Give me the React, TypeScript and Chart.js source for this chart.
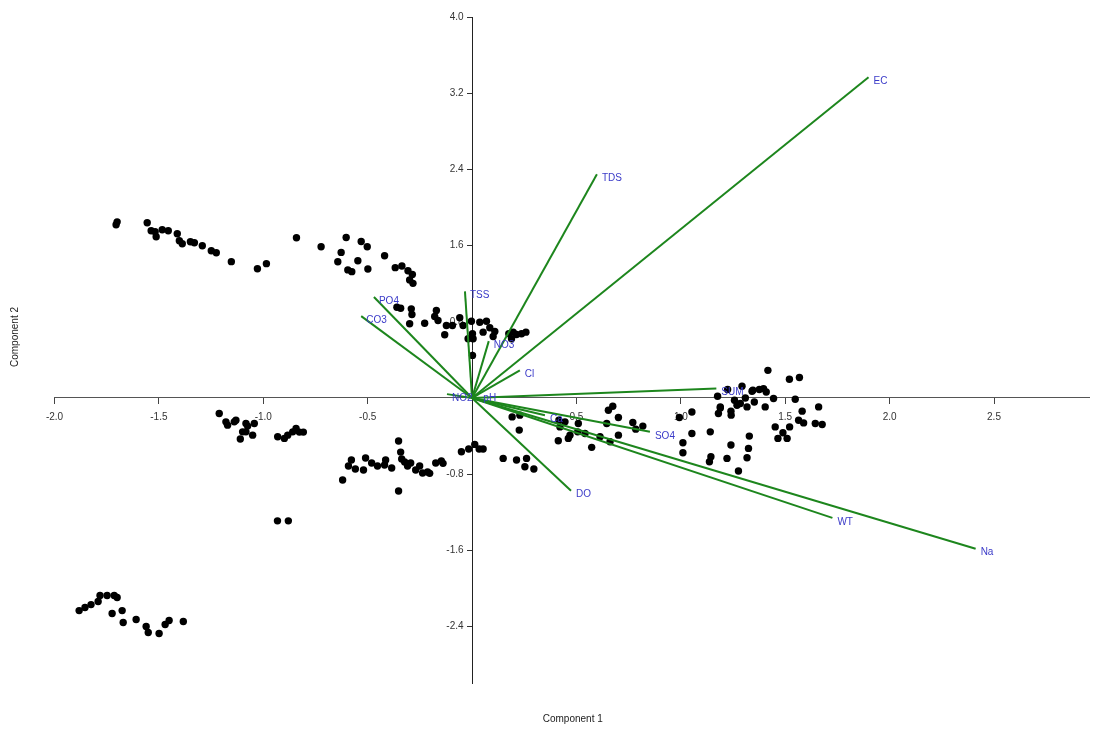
import React, { useEffect, useRef } from 'react';
import { Chart, registerables } from 'chart.js';

Chart.register(...registerables);

// Axis ranges and tick labels
const xRange = [-2.0, 2.955];
const yRange = [-3.0, 4.0];
const xTickValues = [-2.0, -1.5, -1.0, -0.5, 0.5, 1.0, 1.5, 2.0, 2.5];
const yTickValues = [-2.4, -1.6, -0.8, 0.8, 1.6, 2.4, 3.2, 4.0];

const xTitle = 'Component 1';
const yTitle = 'Component 2';

// Loading vectors (variables)
const loadingNames = ['EC', 'TDS', 'TSS', 'PO4', 'CO3', 'NO3', 'Cl', 'pH', 'NO2', 'SUM', 'Ca', 'SO4', 'DO', 'WT', 'Na'];
const loadingX = [1.899, 0.598, -0.034, -0.47, -0.531, 0.08, 0.229, 0.03, -0.12, 1.17, 0.349, 0.852, 0.474, 1.726, 2.412];
const loadingY = [3.37, 2.35, 1.12, 1.06, 0.859, 0.597, 0.29, 0.04, 0.04, 0.098, -0.181, -0.356, -0.975, -1.26, -1.584];

// Sample scores
const scoresUpperLeft: [number, number][] = [
  [-1.705, 1.819], [-1.7, 1.85], [-1.556, 1.84], [-1.537, 1.756], [-1.513, 1.693], [-1.518, 1.746],
  [-1.484, 1.767], [-1.455, 1.756], [-1.412, 1.725], [-1.402, 1.651], [-1.388, 1.62], [-1.349, 1.641],
  [-1.33, 1.631], [-1.292, 1.599], [-1.249, 1.547], [-1.225, 1.526], [-1.153, 1.432], [-1.028, 1.358],
  [-0.985, 1.411],
];
const scoresUpperMid: [number, number][] = [
  [-0.841, 1.683], [-0.723, 1.588], [-0.603, 1.686], [-0.531, 1.644], [-0.502, 1.588], [-0.627, 1.529],
  [-0.643, 1.431], [-0.547, 1.442], [-0.595, 1.345], [-0.576, 1.327], [-0.499, 1.355], [-0.419, 1.494],
  [-0.368, 1.369], [-0.336, 1.386], [-0.307, 1.337], [-0.286, 1.298], [-0.299, 1.24], [-0.283, 1.204],
];
const scoresNearTop: [number, number][] = [
  [-0.36, 0.953], [-0.342, 0.942], [-0.291, 0.936], [-0.288, 0.876], [-0.299, 0.779], [-0.227, 0.785],
  [-0.171, 0.918], [-0.179, 0.855], [-0.163, 0.814], [-0.123, 0.761], [-0.094, 0.761], [-0.131, 0.664],
  [-0.059, 0.842], [-0.043, 0.761], [-0.019, 0.622], [-0.003, 0.806], [0.002, 0.674], [0.005, 0.622],
  [0.037, 0.796], [0.069, 0.806], [0.053, 0.691], [0.085, 0.737], [0.109, 0.698], [0.101, 0.646],
  [0.176, 0.674], [0.197, 0.691], [0.213, 0.667], [0.237, 0.674], [0.258, 0.691], [0.189, 0.622],
  [0.002, 0.447],
];
const scoresMidLeft: [number, number][] = [
  [-1.211, -0.163], [-1.179, -0.251], [-1.171, -0.286], [-1.139, -0.251], [-1.131, -0.234], [-1.083, -0.268],
  [-1.075, -0.296], [-1.043, -0.268], [-1.099, -0.356], [-1.083, -0.356], [-1.051, -0.391], [-1.11, -0.432],
  [-0.931, -0.408], [-0.899, -0.425], [-0.883, -0.391], [-0.859, -0.356], [-0.843, -0.32], [-0.827, -0.359],
  [-0.808, -0.359],
];
const scoresLowerMid: [number, number][] = [
  [-0.62, -0.862], [-0.592, -0.715], [-0.578, -0.652], [-0.559, -0.746], [-0.52, -0.757], [-0.51, -0.631],
  [-0.481, -0.684], [-0.453, -0.715], [-0.419, -0.704], [-0.414, -0.652], [-0.385, -0.736], [-0.352, -0.453],
  [-0.342, -0.569], [-0.337, -0.642], [-0.323, -0.673], [-0.309, -0.715], [-0.294, -0.684], [-0.27, -0.757],
  [-0.251, -0.715], [-0.237, -0.788], [-0.213, -0.778], [-0.203, -0.792], [-0.174, -0.684], [-0.147, -0.663],
  [-0.139, -0.687], [-0.352, -0.977], [-0.051, -0.565], [-0.016, -0.537], [0.013, -0.488], [0.034, -0.537],
  [0.053, -0.537],
];
const scoresRightMid: [number, number][] = [
  [0.192, -0.199], [0.229, -0.181], [0.226, -0.338], [0.149, -0.635], [0.213, -0.652], [0.261, -0.635],
  [0.253, -0.723], [0.296, -0.747], [0.413, -0.45], [0.421, -0.304], [0.461, -0.425], [0.469, -0.391],
  [0.445, -0.251], [0.509, -0.268], [0.506, -0.356], [0.541, -0.373], [0.573, -0.519], [0.613, -0.408],
  [0.645, -0.268], [0.653, -0.129], [0.674, -0.087], [0.701, -0.205], [0.661, -0.461], [0.701, -0.391],
  [0.77, -0.258], [0.784, -0.328], [0.818, -0.296], [0.416, -0.234],
];
const scoresRight: [number, number][] = [
  [0.993, -0.205], [1.053, -0.147], [1.053, -0.373], [1.01, -0.471], [1.01, -0.576], [1.141, -0.356],
  [1.144, -0.618], [1.137, -0.67], [1.221, -0.635], [1.18, -0.163], [1.189, -0.094], [1.176, 0.018],
  [1.417, 0.29], [1.52, 0.196], [1.568, 0.214], [1.345, 0.081], [1.376, 0.088], [1.396, 0.098],
  [1.409, 0.063], [1.224, 0.088], [1.293, 0.123], [1.341, 0.07], [1.257, -0.024], [1.269, -0.076],
  [1.285, -0.059], [1.309, 0.0], [1.317, -0.094], [1.352, -0.042], [1.404, -0.094], [1.444, -0.006],
  [1.548, -0.014], [1.189, -0.105], [1.24, -0.139], [1.241, -0.181], [1.581, -0.139], [1.66, -0.094],
  [1.564, -0.234], [1.588, -0.262], [1.644, -0.268], [1.677, -0.279], [1.452, -0.304], [1.521, -0.304],
  [1.489, -0.366], [1.465, -0.425], [1.509, -0.425], [1.328, -0.401], [1.24, -0.495], [1.324, -0.53],
  [1.317, -0.628], [1.276, -0.768],
];
const scoresLowerLeft: [number, number][] = [
  [-0.932, -1.291], [-0.88, -1.291],
  [-1.882, -2.234], [-1.854, -2.202], [-1.825, -2.171], [-1.791, -2.139], [-1.782, -2.076], [-1.748, -2.076],
  [-1.714, -2.076], [-1.7, -2.097], [-1.724, -2.264], [-1.676, -2.234], [-1.671, -2.359], [-1.609, -2.327],
  [-1.561, -2.401], [-1.551, -2.464], [-1.499, -2.474], [-1.47, -2.38], [-1.451, -2.338], [-1.383, -2.348],
];

const FONT = '"Liberation Sans", Arial, sans-serif';
const VECTOR_COLOR = '#1d861d';
const LABEL_COLOR = '#3a3ac8';
const TICK_COLOR = '#333';
const Y_TICK_LEN = 5;
const Y_TICK_PAD = 3.5;

const fmt = (v: number) => Number(v).toFixed(1);

// y tick labels: the library puts labels of a value-positioned y axis flush on the axis,
// so they are drawn here from the scale's own ticks, offset by tick length + padding.
const yLabelPlugin = {
  id: 'yTickLabels',
  beforeDatasetsDraw(chart: any) {
    const { ctx } = chart;
    const xs = chart.scales.x;
    const ys = chart.scales.y;
    const axisX = xs.getPixelForValue(0);
    ctx.save();
    ctx.font = `10px ${FONT}`;
    ctx.fillStyle = TICK_COLOR;
    ctx.textAlign = 'right';
    ctx.textBaseline = 'middle';
    ys.ticks.forEach((t: any) => {
      ctx.fillText(fmt(t.value), axisX - Y_TICK_LEN - Y_TICK_PAD, ys.getPixelForValue(t.value));
    });
    ctx.restore();
  },
};

const textPlugin = {
  id: 'biplotText',
  afterDatasetsDraw(chart: any) {
    const { ctx, chartArea } = chart;
    const xs = chart.scales.x;
    const ys = chart.scales.y;
    ctx.save();
    ctx.font = `10px ${FONT}`;
    ctx.fillStyle = LABEL_COLOR;
    ctx.textAlign = 'left';
    ctx.textBaseline = 'middle';
    loadingNames.forEach((name, i) => {
      const px = xs.getPixelForValue(loadingX[i]);
      const py = ys.getPixelForValue(loadingY[i]);
      ctx.fillText(name, px + 5, py + 4);
    });
    ctx.fillStyle = '#222';
    ctx.textAlign = 'center';
    ctx.fillText(xTitle, (chartArea.left + chartArea.right) / 2 + 1, 719);
    ctx.translate(15, 337);
    ctx.rotate(-Math.PI / 2);
    ctx.fillText(yTitle, 0, 0);
    ctx.restore();
  },
};

export default function App() {
  const canvasRef = useRef<HTMLCanvasElement | null>(null);

  useEffect(() => {
    if (!canvasRef.current) return;
    const allScores = [
      ...scoresUpperLeft, ...scoresUpperMid, ...scoresNearTop, ...scoresMidLeft,
      ...scoresLowerMid, ...scoresRightMid, ...scoresRight, ...scoresLowerLeft,
    ].map(([x, y]) => ({ x, y }));

    const vectorSets = loadingNames.map((name, i) => ({
      type: 'line' as const,
      label: name,
      data: [{ x: 0, y: 0 }, { x: loadingX[i], y: loadingY[i] }],
      borderColor: VECTOR_COLOR,
      borderWidth: 2,
      pointRadius: 0,
      showLine: true,
      fill: false,
      order: 0,
    }));

    const chart = new Chart(canvasRef.current, {
      type: 'scatter',
      data: {
        datasets: [
          ...vectorSets,
          {
            type: 'scatter' as const,
            label: 'Scores',
            data: allScores,
            backgroundColor: '#000',
            borderWidth: 0,
            pointRadius: 3.7,
            order: 1,
          },
        ] as any,
      },
      options: {
        responsive: false,
        animation: false,
        events: [],
        layout: { padding: { left: 54.5, right: 0, top: 17.2, bottom: 50.5 } },
        plugins: { legend: { display: false }, tooltip: { enabled: false } },
        scales: {
          x: {
            type: 'linear',
            min: xRange[0],
            max: xRange[1],
            position: { y: 0 } as any,
            afterFit: (s: any) => { s.height = 0; },
            afterBuildTicks: (s: any) => { s.ticks = xTickValues.map((v) => ({ value: v })); },
            grid: { drawOnChartArea: false, drawTicks: true, tickLength: 6, color: '#444', lineWidth: 1 },
            border: { display: true, color: '#555', width: 1 },
            ticks: {
              autoSkip: false,
              maxRotation: 0,
              padding: 7,
              color: TICK_COLOR,
              font: { size: 10, family: FONT },
              callback: (v: any) => fmt(v),
            },
          },
          y: {
            type: 'linear',
            min: yRange[0],
            max: yRange[1],
            position: { x: 0 } as any,
            afterFit: (s: any) => { s.width = 0; },
            afterBuildTicks: (s: any) => { s.ticks = yTickValues.map((v) => ({ value: v })); },
            grid: { drawOnChartArea: false, drawTicks: true, tickLength: Y_TICK_LEN, color: '#333', lineWidth: 1 },
            border: { display: true, color: '#222', width: 1 },
            ticks: { display: false, autoSkip: false },
          },
        },
      },
      plugins: [yLabelPlugin, textPlugin],
    });
    return () => chart.destroy();
  }, []);

  return (
    <div style={{ position: 'fixed', left: 0, top: 0, width: 1093, height: 734, background: '#fff' }}>
      <canvas ref={canvasRef} width={1093} height={734} style={{ display: 'block' }} />
    </div>
  );
}
